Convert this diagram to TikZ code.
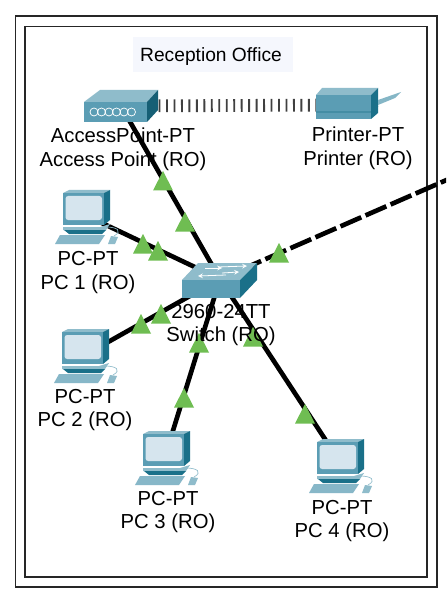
\documentclass[tikz,border=0pt]{standalone}
\usepackage{fontspec}
\setmainfont{Liberation Sans}
\definecolor{fronty}{HTML}{5B9DB4}
\definecolor{toppy}{HTML}{8FBCCB}
\definecolor{sidey}{HTML}{1A7089}
\definecolor{screeny}{HTML}{D6E5EE}
\definecolor{greeny}{HTML}{6FBD52}
\definecolor{boxy}{HTML}{F5F7FD}
\definecolor{framey}{HTML}{262626}
\tikzset{
  frameline/.style={draw=framey,line width=1.1pt},
  linkline/.style={draw=black,line width=3.5pt},
  anchorpt/.style={inner sep=0pt,minimum size=0pt},
  devlabel/.style={align=center,font=\fontsize{15.2pt}{17.8pt}\selectfont,text=black,inner sep=0pt},
  flag/.pic={\fill[greeny] (-10,9.5) -- (0,-10) -- (10,9.5) -- cycle;},
  pcicon/.pic={
    \fill[toppy] (0,0) -- (6,-3) -- (47,-3) -- (41,0) -- cycle;
    \fill[sidey] (41,0) -- (47,-3) -- (47,27) -- (41,32) -- cycle;
    \fill[fronty] (0,0) rectangle (41,32);
    \fill[screeny,rounded corners=2pt] (2.5,3) rectangle (39,27);
    % stand
    \fill[toppy] (0,34) -- (37,34) -- (47,31) -- (45,34) -- (43,37) -- (0,37) -- cycle;
    \fill[sidey] (1,37) -- (43,37) -- (39,41) -- (6,41) -- cycle;
    % keyboard
    \fill[toppy!85!fronty] (-8,51) -- (-3,42) -- (42,42) -- (36,51) -- cycle;
    % mouse
    \fill[toppy] (45,51) -- (48,43) -- (55,44) -- (52,51) -- cycle;
    \draw[toppy,line width=0.5pt] (51,43) .. controls (60,38) and (54,34) .. (43,34);
  },
  switchicon/.pic={
    \fill[toppy] (182,280) -- (198,263) -- (257,263) -- (240,280) -- cycle;
    \fill[sidey] (240,280) -- (257,263) -- (257,280) -- (240,298) -- cycle;
    \fill[fronty] (182,280) rectangle (240,298);
    \draw[white,line width=0.6pt,-stealth] (218,267) -- (247,266);
    \draw[white,line width=0.6pt,-stealth] (226,275) -- (198,276);
    \draw[white,line width=0.6pt,-stealth] (205,268) -- (222,268);
    \draw[white,line width=0.6pt,-stealth] (222,273) -- (239,272);
  },
  apicon/.pic={
    \fill[toppy] (84,102) -- (100,90) -- (158,90) -- (147,102) -- cycle;
    \fill[sidey!85!black] (147,102) -- (158,90) -- (158,110) -- (147,122) -- cycle;
    \fill[fronty] (84,102) rectangle (147,122);
    \foreach \cx in {94,101.5,109,116.5,124,131.5}
      \draw[white,line width=0.55pt] (\cx,112) circle[radius=4];
  },
  printericon/.pic={
    \fill[toppy] (316,95) -- (322,88) -- (378,88) -- (371,95) -- cycle;
    \fill[sidey] (371,95) -- (378,88) -- (378,113) -- (371,119) -- cycle;
    \fill[fronty] (316,95) rectangle (371,119);
    \draw[sidey,line width=0.6pt] (316,112) -- (371,112) -- (378,106);
    \fill[toppy!80!fronty] (378,100) -- (401,92) -- (395,98) -- (378,105) -- cycle;
  }
}
\begin{document}
\begin{tikzpicture}[x=0.75pt,y=-0.75pt]
\useasboundingbox (0,0) rectangle (446,595);
\clip (0,0) rectangle (446,595);
\fill[white] (0,0) rectangle (446,595);
\draw[frameline] (15.5,16) rectangle (437,587);
\draw[frameline] (25,26.5) rectangle (427,577);
\fill[boxy] (133,37) rectangle (293,72);

\node[anchorpt] (ap) at (121,106) {};
\node[anchorpt] (printer) at (347,105) {};
\node[anchorpt] (sw) at (220,279) {};
\node[anchorpt] (pc1) at (85,215) {};
\node[anchorpt] (pc2) at (85,355) {};
\node[anchorpt] (pc3) at (164.5,458) {};
\node[anchorpt] (pc4) at (342,465) {};
\coordinate (uplink) at (450,178.5);

\draw[line width=9.6pt,draw=black!75,dash pattern=on 1.4pt off 4.2pt] (ap) -- (printer);
\draw[linkline] (ap) -- (sw);
\draw[linkline] (pc1) -- (sw);
\draw[linkline] (pc2) -- (sw);
\draw[linkline] (pc3) -- (sw);
\draw[linkline] (pc4) -- (sw);
\draw[linkline,dash pattern=on 17pt off 3.5pt,dash phase=4.1pt] (sw) -- (uplink);

\pic at (0,0) {apicon};
\pic at (0,0) {printericon};
\pic at (0,0) {switchicon};
\pic at (63,193) {pcicon};
\pic at (62,332) {pcicon};
\pic at (143,434) {pcicon};
\pic at (317,442) {pcicon};

\foreach \tx/\ty in {163/181,185/222,143/244,158/251,279/253,141/324,161/314,199/343,184/398,253/337,305/414}
  \pic at (\tx,\ty) {flag};

\node[font=\fontsize{14.4pt}{17pt}\selectfont,inner sep=0pt] (title) at (211,57) {Reception Office};
\node[devlabel] (aplabel) at (123,149) {AccessPoint-PT\\Access Point (RO)};
\node[devlabel] (prlabel) at (358,148) {Printer-PT\\Printer (RO)};
\node[devlabel] (pc1label) at (88,272.5) {PC-PT\\PC 1 (RO)};
\node[devlabel] (pc2label) at (85,410) {PC-PT\\PC 2 (RO)};
\node[devlabel] (pc3label) at (168,512) {PC-PT\\PC 3 (RO)};
\node[devlabel] (pc4label) at (342,521) {PC-PT\\PC 4 (RO)};
\node[devlabel] (swlabel) at (221,325) {2960-24TT\\Switch (RO)};
\end{tikzpicture}
\end{document}
